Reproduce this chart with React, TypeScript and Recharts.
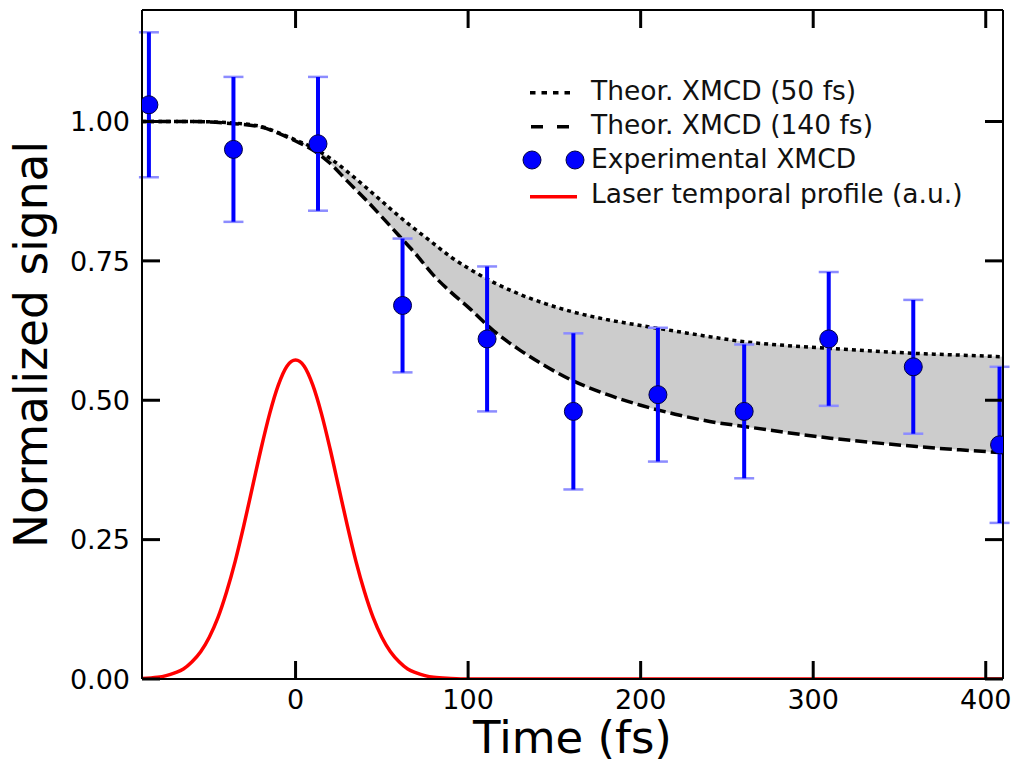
import {
  ComposedChart,
  Line,
  Area,
  Scatter,
  ErrorBar,
  XAxis,
  YAxis,
  Legend,
} from "recharts";

const FONT = "DejaVu Sans, Verdana, sans-serif";

// plot box in pixels (chart 1015x760)
const PLOT_TOP = 10;
const PLOT_BOTTOM = 679;
const PLOT_LEFT = 142;
const PLOT_RIGHT = 1003;
const TICK_LEN = 18;

// axis ticks
const xTicks = [0, 100, 200, 300, 400];
const yTicks = [0, 0.25, 0.5, 0.75, 1.0];

// theoretical XMCD curves
const curveTimes = [
  -89, -60, -40, -20, -10, 0, 10, 20, 30, 40, 50, 60, 70, 80, 90, 100, 115,
  130, 145, 160, 180, 200, 220, 240, 260, 285, 310, 335, 360, 385, 410,
];
const theor50fs = [
  1.0, 1.0, 0.998, 0.991, 0.98, 0.967, 0.953, 0.934, 0.91, 0.884, 0.857, 0.83,
  0.805, 0.781, 0.757, 0.737, 0.711, 0.69, 0.673, 0.659, 0.645, 0.634, 0.624,
  0.614, 0.605, 0.598, 0.593, 0.588, 0.584, 0.581, 0.578,
];
const theor140fs = [
  1.0, 1.0, 0.997, 0.99, 0.979, 0.965, 0.949, 0.925, 0.893, 0.862, 0.829,
  0.795, 0.761, 0.724, 0.694, 0.667, 0.624, 0.59, 0.561, 0.536, 0.511, 0.491,
  0.475, 0.462, 0.453, 0.442, 0.432, 0.424, 0.417, 0.411, 0.406,
];

// laser temporal profile (a.u.)
const laserTimes = [
  -89, -80, -75, -70, -65, -60, -55, -50, -45, -40, -35, -30, -25, -20, -15,
  -10, -5, 0, 5, 10, 15, 20, 25, 30, 35, 40, 45, 50, 55, 60, 65, 70, 75, 80,
  90, 100, 200, 300, 410,
];
const laserValues = [
  0.001, 0.003, 0.006, 0.011, 0.018, 0.031, 0.049, 0.075, 0.11, 0.156, 0.211,
  0.275, 0.344, 0.413, 0.476, 0.527, 0.561, 0.572, 0.561, 0.527, 0.476, 0.413,
  0.344, 0.275, 0.211, 0.156, 0.11, 0.075, 0.049, 0.031, 0.018, 0.011, 0.006,
  0.003, 0.001, 0, 0, 0, 0,
];

// experimental XMCD
const expTimes = [-85, -36, 13, 62, 111, 161, 210, 260, 309, 358, 408];
const expValues = [1.03, 0.95, 0.96, 0.67, 0.61, 0.48, 0.51, 0.48, 0.61, 0.56, 0.42];
const expErrors = [0.13, 0.13, 0.12, 0.12, 0.13, 0.14, 0.12, 0.12, 0.12, 0.12, 0.14];

const curveData = curveTimes.map((t, i) => ({
  t,
  fast: theor50fs[i],
  slow: theor140fs[i],
}));
const laserData = laserTimes.map((t, i) => ({ t, laser: laserValues[i] }));
const expData = expTimes.map((t, i) => ({ t, v: expValues[i], err: expErrors[i] }));

const BLUE = "#0000ff";

function Dot(props: any) {
  const { cx, cy } = props;
  if (cx == null || cy == null) return null;
  return <circle cx={cx} cy={cy} r={9} fill={BLUE} stroke="#000044" strokeWidth={1} />;
}

// inward ticks on bottom and top, label below
function XTick(props: any) {
  const x = props.payload?.coordinate ?? props.x;
  return (
    <g>
      <line x1={x} x2={x} y1={PLOT_BOTTOM} y2={PLOT_BOTTOM - TICK_LEN} stroke="#000" strokeWidth={3} />
      <line x1={x} x2={x} y1={PLOT_TOP} y2={PLOT_TOP + TICK_LEN} stroke="#000" strokeWidth={3} />
      <text x={x} y={708.5} textAnchor="middle" fontFamily={FONT} fontSize={27} fill="#000">
        {props.payload.value}
      </text>
    </g>
  );
}

// inward ticks on left and right, label at left
function YTick(props: any) {
  const y = props.payload?.coordinate ?? props.y;
  return (
    <g>
      <line x1={PLOT_LEFT} x2={PLOT_LEFT + TICK_LEN} y1={y} y2={y} stroke="#000" strokeWidth={3} />
      <line x1={PLOT_RIGHT} x2={PLOT_RIGHT - TICK_LEN} y1={y} y2={y} stroke="#000" strokeWidth={3} />
      <text x={130} y={y} dy="0.36em" textAnchor="end" fontFamily={FONT} fontSize={27} fill="#000">
        {Number(props.payload.value).toFixed(2)}
      </text>
    </g>
  );
}

function YLabel(props: any) {
  const vb = props.viewBox || { y: PLOT_TOP, height: PLOT_BOTTOM - PLOT_TOP };
  const cy = vb.y + vb.height / 2;
  return (
    <text
      x={47}
      y={cy}
      transform={`rotate(-90, 47, ${cy})`}
      textAnchor="middle"
      fontFamily={FONT}
      fontSize={45.5}
      fill="#000"
    >
      Normalized signal
    </text>
  );
}

function LegendBox() {
  const text = { fontFamily: FONT, fontSize: 26.5, fill: "#111" };
  return (
    <svg width={470} height={150}>
      <line x1={10} x2={55} y1={22.7} y2={22.7} stroke="#000" strokeWidth={3.5} strokeDasharray="5.5 6" />
      <text x={71} y={30} {...text}>Theor. XMCD (50 fs)</text>
      <line x1={11} x2={49} y1={56.7} y2={56.7} stroke="#000" strokeWidth={3.5} strokeDasharray="12 14" />
      <text x={71} y={64.3} {...text}>Theor. XMCD (140 fs)</text>
      <circle cx={12} cy={90} r={9} fill={BLUE} stroke="#000044" strokeWidth={1} />
      <circle cx={55} cy={90} r={9} fill={BLUE} stroke="#000044" strokeWidth={1} />
      <text x={71} y={98.3} {...text}>Experimental XMCD</text>
      <line x1={10} x2={57} y1={126.7} y2={126.7} stroke="#ff0000" strokeWidth={3.5} />
      <text x={71} y={133.3} {...text}>Laser temporal profile (a.u.)</text>
    </svg>
  );
}

export default function App() {
  return (
    <div style={{ position: "absolute", left: 0, top: 0, width: 1015, height: 760, background: "#fff" }}>
      <ComposedChart
        width={1015}
        height={760}
        margin={{ top: PLOT_TOP - 1, right: 1015 - PLOT_RIGHT - 1, left: 0, bottom: 0 }}
      >
        <XAxis
          xAxisId="bottom"
          dataKey="t"
          type="number"
          domain={[-89, 410]}
          ticks={xTicks}
          allowDataOverflow
          height={760 - PLOT_BOTTOM}
          tickLine={false}
          tick={<XTick />}
          axisLine={{ stroke: "#000", strokeWidth: 2 }}
          label={{
            value: "Time (fs)",
            position: "insideBottom",
            offset: 7,
            style: { fontFamily: FONT, fontSize: 45, fill: "#000" },
          }}
        />
        <XAxis
          xAxisId="top"
          dataKey="t"
          type="number"
          orientation="top"
          domain={[-89, 410]}
          ticks={xTicks}
          allowDataOverflow
          height={1}
          tick={false}
          tickLine={false}
          axisLine={{ stroke: "#000", strokeWidth: 2 }}
        />
        <YAxis
          yAxisId="left"
          type="number"
          domain={[0, 1.2]}
          ticks={yTicks}
          allowDataOverflow
          width={PLOT_LEFT}
          tickLine={false}
          tick={<YTick />}
          axisLine={{ stroke: "#000", strokeWidth: 2 }}
          label={<YLabel />}
        />
        <YAxis
          yAxisId="right"
          type="number"
          orientation="right"
          domain={[0, 1.2]}
          ticks={yTicks}
          allowDataOverflow
          width={1}
          tick={false}
          tickLine={false}
          axisLine={{ stroke: "#000", strokeWidth: 2 }}
        />

        <Area
          xAxisId="bottom"
          yAxisId="left"
          data={curveData}
          dataKey={(d: any) => [d.slow, d.fast]}
          type="monotone"
          stroke="none"
          fill="#cccccc"
          fillOpacity={1}
          isAnimationActive={false}
          legendType="none"
        />
        <Line
          xAxisId="bottom"
          yAxisId="left"
          data={laserData}
          dataKey="laser"
          type="monotone"
          stroke="#ff0000"
          strokeWidth={3.5}
          dot={false}
          isAnimationActive={false}
        />
        <Line
          xAxisId="bottom"
          yAxisId="left"
          data={curveData}
          dataKey="fast"
          type="monotone"
          stroke="#000"
          strokeWidth={3.5}
          strokeDasharray="4 4"
          dot={false}
          isAnimationActive={false}
        />
        <Line
          xAxisId="bottom"
          yAxisId="left"
          data={curveData}
          dataKey="slow"
          type="monotone"
          stroke="#000"
          strokeWidth={3.5}
          strokeDasharray="12 5"
          dot={false}
          isAnimationActive={false}
        />
        <Scatter
          xAxisId="bottom"
          yAxisId="left"
          data={expData}
          dataKey="v"
          shape={<Dot />}
          isAnimationActive={false}
        >
          <ErrorBar dataKey="err" direction="y" width={10} stroke="#8c8cff" strokeWidth={2.5} />
          <ErrorBar dataKey="err" direction="y" width={0} stroke={BLUE} strokeWidth={4} />
        </Scatter>

        <Legend
          layout="vertical"
          align="center"
          verticalAlign="middle"
          content={<LegendBox />}
          wrapperStyle={{ left: 520, top: 70, width: 470, height: 150 }}
        />
      </ComposedChart>
    </div>
  );
}
